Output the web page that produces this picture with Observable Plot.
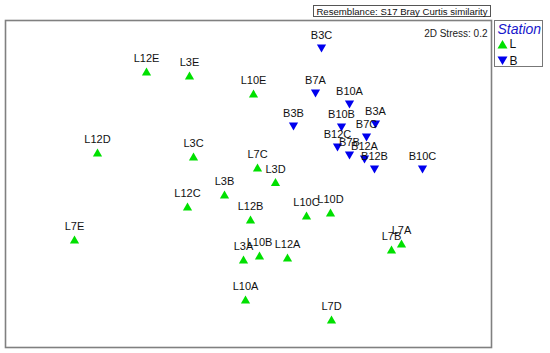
<!DOCTYPE html>
<html>
<head>
<meta charset="utf-8">
<script src="https://cdn.jsdelivr.net/npm/d3@7"></script>
<script src="https://cdn.jsdelivr.net/npm/@observablehq/plot@0.6"></script>
<style>
  html, body { margin: 0; padding: 0; background: white; }
</style>
</head>
<body>
<div id="chart"></div>
<script>
// Sample labels, station group, and nMDS coordinates
const sampleNames = ["L12E","L3E","L10E","L12D","L3C","L7C","L3D","L3B","L12C","L12B","L7E","L3A","L10B","L10A","L10C","L10D","L12A","L7B","L7A","L7D",
                     "B3C","B7A","B10A","B3B","B10B","B3A","B7C","B12C","B7B","B12A","B12B","B10C"];
const stations    = ["L","L","L","L","L","L","L","L","L","L","L","L","L","L","L","L","L","L","L","L",
                     "B","B","B","B","B","B","B","B","B","B","B","B"];
const mds1 = [-1.04,-0.61,0.03,-1.53,-0.57,0.07,0.25,-0.26,-0.63,0.00,-1.76,-0.07,0.09,-0.05,0.56,0.80,0.37,1.41,1.51,0.81,
              0.71,0.65,0.99,0.43,0.91,1.25,1.16,0.87,0.99,1.14,1.24,1.72];
const mds2 = [1.14,1.10,0.92,0.33,0.29,0.18,0.035,-0.09,-0.21,-0.34,-0.54,-0.74,-0.70,-1.14,-0.30,-0.27,-0.72,-0.64,-0.58,-1.34,
              1.37,0.92,0.81,0.59,0.58,0.61,0.48,0.38,0.30,0.26,0.16,0.16];
const stationOrder = ["L","B"];
const stationColors = ["#00e000","#0000ee"];
const stressText = "2D Stress: 0.2";
const resemblanceText = "Resemblance: S17 Bray Curtis similarity";
const legendTitle = "Station";

const data = sampleNames.map((n, i) => ({name: n, station: stations[i], x: mds1[i], y: mds2[i]}));

const triUp = {draw(ctx, size) { const r = Math.sqrt(size / Math.PI), h = r * 0.85;
  ctx.moveTo(0, -h); ctx.lineTo(r, h); ctx.lineTo(-r, h); ctx.closePath(); }};
const triDown = {draw(ctx, size) { const r = Math.sqrt(size / Math.PI), h = r * 0.85;
  ctx.moveTo(0, h); ctx.lineTo(r, -h); ctx.lineTo(-r, -h); ctx.closePath(); }};

const font = "Arial, 'Liberation Sans', sans-serif";

const chart = Plot.plot({
  width: 550, height: 353,
  marginLeft: 5, marginRight: 59, marginTop: 20, marginBottom: 6,
  x: {domain: [-2.45, 2.41], axis: null},
  y: {domain: [-1.62, 1.65], axis: null},
  color: {domain: stationOrder, range: stationColors},
  symbol: {domain: stationOrder, range: [triUp, triDown]},
  style: {fontFamily: font, background: "white", overflow: "visible"},
  marks: [
    Plot.frame({stroke: "#808080", strokeWidth: 1.6}),
    Plot.dot(data, {x: "x", y: "y", symbol: "station", fill: "station", r: 4.6}),
    Plot.text(data, {x: "x", y: "y", text: "name", dy: -13, fontSize: 11, fill: "#111"}),
    Plot.text([stressText], {frameAnchor: "top-right", dx: -4, dy: 9, fontSize: 10, textAnchor: "end", fill: "#222"})
  ]
});
document.getElementById("chart").appendChild(chart);

// Overlay boxes: resemblance label and legend
const svg = d3.select(chart);
const g = svg.append("g").attr("font-family", font).attr("text-anchor", "start");
g.append("rect").attr("x", 313.5).attr("y", 5.5).attr("width", 177).attr("height", 11)
  .attr("fill", "white").attr("stroke", "#555");
g.append("text").attr("x", 402).attr("y", 11).attr("text-anchor", "middle")
  .attr("dominant-baseline", "central").attr("font-size", 9.6).attr("fill", "#111").text(resemblanceText);

g.append("rect").attr("x", 494.5).attr("y", 20.5).attr("width", 48).attr("height", 46)
  .attr("fill", "white").attr("stroke", "#777");
g.append("text").attr("x", 497.5).attr("y", 33.5).attr("font-size", 14).attr("font-style", "italic")
  .attr("text-anchor", "start").attr("fill", "#1818cc").text(legendTitle);
const legendY = [44.3, 60.7];
stationOrder.forEach((s, i) => {
  g.append("path").attr("transform", `translate(502.5,${legendY[i]})`)
    .attr("d", d3.symbol(i === 0 ? triUp : triDown, 5 * 5 * Math.PI)())
    .attr("fill", stationColors[i]);
  g.append("text").attr("x", 509.5).attr("y", legendY[i]).attr("dominant-baseline", "central")
    .attr("text-anchor", "start").attr("font-size", 12).attr("fill", "#111").text(s);
});
</script>
</body>
</html>
